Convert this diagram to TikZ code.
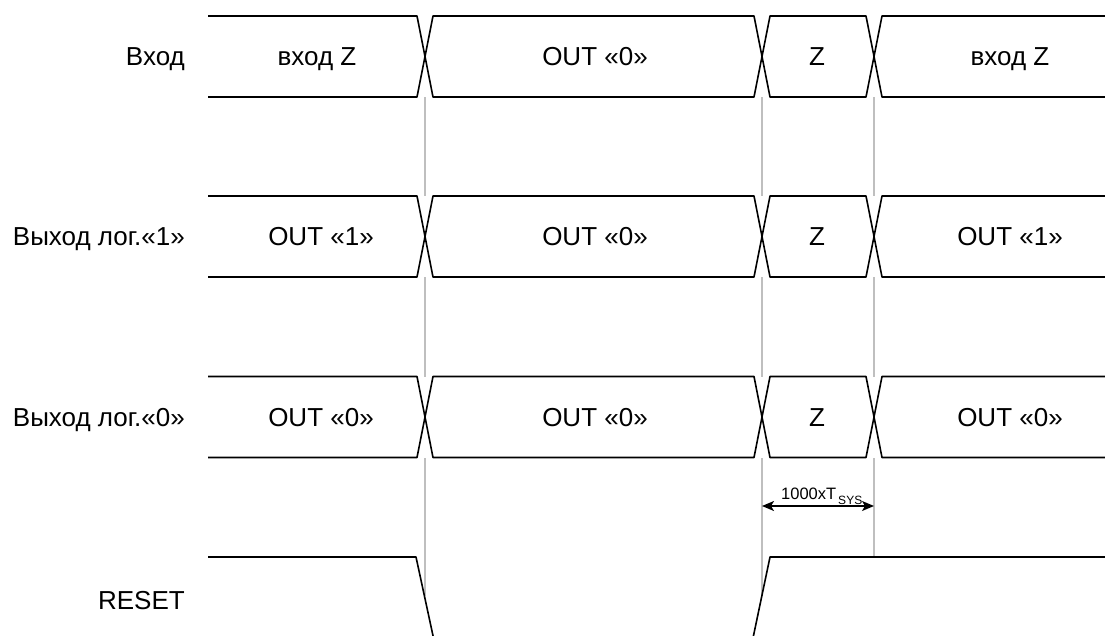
\documentclass[tikz,border=0pt]{standalone}
\usepackage{fontspec}
\setmainfont{Liberation Sans}
\usetikzlibrary{arrows.meta}
\begin{document}
\begin{tikzpicture}[x=1pt,y=-1pt,
  sig/.style={line width=1.6pt, black, line join=round},
  guide/.style={line width=1.5pt, color=black!25},
  lbl/.style={anchor=base east, font=\fontsize{26}{30}\selectfont, inner sep=0pt},
  val/.style={anchor=base, font=\fontsize{26}{30}\selectfont, inner sep=0pt},
  dim/.style={line width=1.4pt, {Stealth[length=12pt,width=10pt,inset=3pt]}-{Stealth[length=12pt,width=10pt,inset=3pt]}}]
\useasboundingbox (0,0) rectangle (1105,635);
\clip (0,0) rectangle (1105,635);
% guide lines
\draw[guide] (425,56.5) -- (425,596);
\draw[guide] (762,56.5) -- (762,596);
\draw[guide] (874,56.5) -- (874,557);
% bus rows
\foreach \T/\B in {16/97, 196/277, 376.5/457.5}{
  \fill[white] (206,\T) rectangle (1105,\B);
  \draw[sig] (208,\T) -- (417,\T) -- (433,\B) -- (754,\B) -- (770,\T) -- (866,\T) -- (882,\B) -- (1105,\B);
  \draw[sig] (208,\B) -- (417,\B) -- (433,\T) -- (754,\T) -- (770,\B) -- (866,\B) -- (882,\T) -- (1105,\T);
}
% reset
\draw[sig] (208,557) -- (416,557) -- (433.5,638);
\draw[sig] (753,638) -- (770,557) -- (1105,557);
% labels
\node[lbl] (l1) at (185,65.8) {Вход};
\node[lbl] (l2) at (185,245.8) {Выход лог.«1»};
\node[lbl] (l3) at (185,426.3) {Выход лог.«0»};
\node[lbl] (l4) at (185,609.3) {RESET};
% values row 1
\node[val] (a1) at (317,65.8) {вход Z};
\node[val] (a2) at (595,65.8) {OUT «0»};
\node[val] (a3) at (817,65.8) {Z};
\node[val] (a4) at (1010,65.8) {вход Z};
% values row 2
\node[val] (b1) at (321,245.8) {OUT «1»};
\node[val] (b2) at (595,245.8) {OUT «0»};
\node[val] (b3) at (817,245.8) {Z};
\node[val] (b4) at (1010,245.8) {OUT «1»};
% values row 3
\node[val] (c1) at (321,426.3) {OUT «0»};
\node[val] (c2) at (595,426.3) {OUT «0»};
\node[val] (c3) at (817,426.3) {Z};
\node[val] (c4) at (1010,426.3) {OUT «0»};
% dimension
\coordinate (d1) at (762,506);
\coordinate (d2) at (874,506);
\draw[dim] (d1) -- (d2);
\node[anchor=base west, inner sep=0pt, font=\fontsize{16.5}{19}\selectfont] (dl) at (781,499)
  {1000xT\raisebox{-5pt}{\fontsize{12}{14}\selectfont\,SYS}};
\end{tikzpicture}
\end{document}
